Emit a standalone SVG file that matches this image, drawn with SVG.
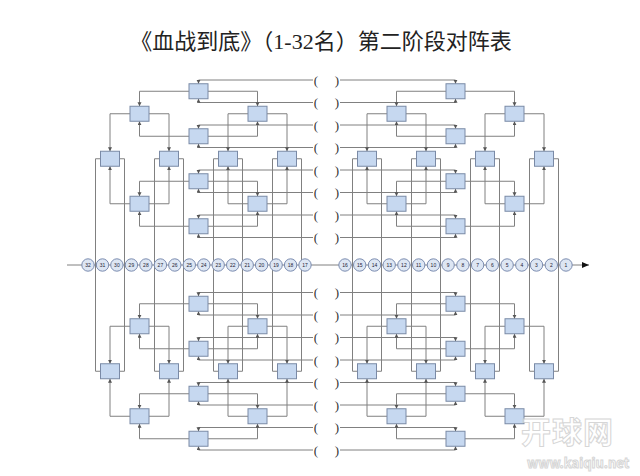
<svg xmlns="http://www.w3.org/2000/svg" width="640" height="476" viewBox="0 0 640 476">
<defs>
<marker id="ah" markerUnits="userSpaceOnUse" markerWidth="5" markerHeight="5" refX="4" refY="2" orient="auto"><path d="M0,0L4,2L0,4z" fill="#555"/></marker>
<marker id="axh" markerUnits="userSpaceOnUse" markerWidth="8" markerHeight="8" refX="7" refY="3" orient="auto"><path d="M0,0L7,3L0,6z" fill="#111"/></marker>
<style>
.c{fill:none;stroke:#808080;stroke-width:1}
.a{marker-end:url(#ah)}
.b rect{fill:#c6d8f0;stroke:#7a8aa6;stroke-width:1}
.p text{font-family:"Liberation Serif",serif;font-size:13px;fill:#333;text-anchor:middle}
.r circle{fill:#dde6f3;stroke:#7b8cb0;stroke-width:1}
.r text{font-family:"Liberation Sans",sans-serif;font-size:5px;fill:#223;text-anchor:middle}
.wm{font-family:"Noto Sans CJK SC","Liberation Sans",sans-serif;font-weight:bold;fill:#fff;stroke:#cfcfcf;stroke-width:1}
</style>
</defs>
<rect width="640" height="476" fill="#fff"/>
<text x="321" y="49" font-family="'Liberation Serif','Noto Sans CJK SC',serif" font-size="22" fill="#222" text-anchor="middle">《血战到底》（1-32名）第二阶段对阵表</text>

<g id="connectors">
<!-- left top brackets -->
<path class="c a" d="M313,80H198.5V83.75"/><path class="c a" d="M313,102.5H198.5V98.75"/>
<path class="c a" d="M313,125H198.5V128.75"/><path class="c a" d="M313,147.5H198.5V143.75"/>
<path class="c a" d="M313,170H198.5V173.75"/><path class="c a" d="M313,192.5H198.5V188.75"/>
<path class="c a" d="M313,215H198.5V218.75"/><path class="c a" d="M313,237.5H198.5V233.75"/>
<!-- left top core -->
<path class="c a" d="M189,91.25H139.5V106.25"/><path class="c a" d="M208,91.25H257.5V106.25"/>
<path class="c a" d="M189,136.25H139.5V121.25"/><path class="c a" d="M208,136.25H257.5V121.25"/>
<path class="c a" d="M189,181.25H139.5V196.25"/><path class="c a" d="M208,181.25H257.5V196.25"/>
<path class="c a" d="M189,226.25H139.5V211.25"/><path class="c a" d="M208,226.25H257.5V211.25"/>
<path class="c a" d="M130,113.75H110V151.25"/><path class="c a" d="M149,113.75H169V151.25"/>
<path class="c a" d="M248,113.75H228V151.25"/><path class="c a" d="M267,113.75H287V151.25"/>
<path class="c a" d="M130,203.75H110V166.25"/><path class="c a" d="M149,203.75H169V166.25"/>
<path class="c a" d="M248,203.75H228V166.25"/><path class="c a" d="M267,203.75H287V166.25"/>
<!-- left bottom brackets -->
<path class="c a" d="M313,450H198.5V446.25"/><path class="c a" d="M313,427.5H198.5V431.25"/>
<path class="c a" d="M313,405H198.5V401.25"/><path class="c a" d="M313,382.5H198.5V386.25"/>
<path class="c a" d="M313,360H198.5V356.25"/><path class="c a" d="M313,337.5H198.5V341.25"/>
<path class="c a" d="M313,315H198.5V311.25"/><path class="c a" d="M313,292.5H198.5V296.25"/>
<!-- left bottom core -->
<path class="c a" d="M189,438.75H139.5V423.75"/><path class="c a" d="M208,438.75H257.5V423.75"/>
<path class="c a" d="M189,393.75H139.5V408.75"/><path class="c a" d="M208,393.75H257.5V408.75"/>
<path class="c a" d="M189,348.75H139.5V333.75"/><path class="c a" d="M208,348.75H257.5V333.75"/>
<path class="c a" d="M189,303.75H139.5V318.75"/><path class="c a" d="M208,303.75H257.5V318.75"/>
<path class="c a" d="M130,416.25H110V378.75"/><path class="c a" d="M149,416.25H169V378.75"/>
<path class="c a" d="M248,416.25H228V378.75"/><path class="c a" d="M267,416.25H287V378.75"/>
<path class="c a" d="M130,326.25H110V363.75"/><path class="c a" d="M149,326.25H169V363.75"/>
<path class="c a" d="M248,326.25H228V363.75"/><path class="c a" d="M267,326.25H287V363.75"/>
<!-- left verticals -->
<path class="c" d="M100.5,158.75H95.5V371.25H100.5"/><path class="c" d="M119.5,158.75H124.5V371.25H119.5"/>
<path class="c" d="M159.5,158.75H154.5V371.25H159.5"/><path class="c" d="M178.5,158.75H183.5V371.25H178.5"/>
<path class="c" d="M218.5,158.75H213.5V371.25H218.5"/><path class="c" d="M237.5,158.75H242.5V371.25H237.5"/>
<path class="c" d="M277.5,158.75H272.5V371.25H277.5"/><path class="c" d="M296.5,158.75H301.5V371.25H296.5"/>

<!-- right top brackets -->
<path class="c a" d="M340,80H455.5V83.75"/><path class="c a" d="M340,102.5H455.5V98.75"/>
<path class="c a" d="M340,125H455.5V128.75"/><path class="c a" d="M340,147.5H455.5V143.75"/>
<path class="c a" d="M340,170H455.5V173.75"/><path class="c a" d="M340,192.5H455.5V188.75"/>
<path class="c a" d="M340,215H455.5V218.75"/><path class="c a" d="M340,237.5H455.5V233.75"/>
<!-- right top core -->
<path class="c a" d="M446,91.25H396.5V106.25"/><path class="c a" d="M465,91.25H514.5V106.25"/>
<path class="c a" d="M446,136.25H396.5V121.25"/><path class="c a" d="M465,136.25H514.5V121.25"/>
<path class="c a" d="M446,181.25H396.5V196.25"/><path class="c a" d="M465,181.25H514.5V196.25"/>
<path class="c a" d="M446,226.25H396.5V211.25"/><path class="c a" d="M465,226.25H514.5V211.25"/>
<path class="c a" d="M387,113.75H367V151.25"/><path class="c a" d="M406,113.75H426V151.25"/>
<path class="c a" d="M505,113.75H485V151.25"/><path class="c a" d="M524,113.75H544V151.25"/>
<path class="c a" d="M387,203.75H367V166.25"/><path class="c a" d="M406,203.75H426V166.25"/>
<path class="c a" d="M505,203.75H485V166.25"/><path class="c a" d="M524,203.75H544V166.25"/>
<!-- right bottom brackets -->
<path class="c a" d="M340,450H455.5V446.25"/><path class="c a" d="M340,427.5H455.5V431.25"/>
<path class="c a" d="M340,405H455.5V401.25"/><path class="c a" d="M340,382.5H455.5V386.25"/>
<path class="c a" d="M340,360H455.5V356.25"/><path class="c a" d="M340,337.5H455.5V341.25"/>
<path class="c a" d="M340,315H455.5V311.25"/><path class="c a" d="M340,292.5H455.5V296.25"/>
<!-- right bottom core -->
<path class="c a" d="M446,438.75H396.5V423.75"/><path class="c a" d="M465,438.75H514.5V423.75"/>
<path class="c a" d="M446,393.75H396.5V408.75"/><path class="c a" d="M465,393.75H514.5V408.75"/>
<path class="c a" d="M446,348.75H396.5V333.75"/><path class="c a" d="M465,348.75H514.5V333.75"/>
<path class="c a" d="M446,303.75H396.5V318.75"/><path class="c a" d="M465,303.75H514.5V318.75"/>
<path class="c a" d="M387,416.25H367V378.75"/><path class="c a" d="M406,416.25H426V378.75"/>
<path class="c a" d="M505,416.25H485V378.75"/><path class="c a" d="M524,416.25H544V378.75"/>
<path class="c a" d="M387,326.25H367V363.75"/><path class="c a" d="M406,326.25H426V363.75"/>
<path class="c a" d="M505,326.25H485V363.75"/><path class="c a" d="M524,326.25H544V363.75"/>
<!-- right verticals -->
<path class="c" d="M357.5,158.75H352.5V371.25H357.5"/><path class="c" d="M376.5,158.75H381.5V371.25H376.5"/>
<path class="c" d="M416.5,158.75H411.5V371.25H416.5"/><path class="c" d="M435.5,158.75H440.5V371.25H435.5"/>
<path class="c" d="M475.5,158.75H470.5V371.25H475.5"/><path class="c" d="M494.5,158.75H499.5V371.25H494.5"/>
<path class="c" d="M534.5,158.75H529.5V371.25H534.5"/><path class="c" d="M553.5,158.75H558.5V371.25H553.5"/>
<!-- rank axis -->
<path d="M67,265H589" stroke="#808080" stroke-width="1" fill="none" marker-end="url(#axh)"/>
</g>

<g id="matches" class="b">
<g id="lt-r1a"><rect x="189" y="83.75" width="19" height="15"/></g>
<g id="lt-r1b"><rect x="189" y="128.75" width="19" height="15"/></g>
<g id="lt-r1c"><rect x="189" y="173.75" width="19" height="15"/></g>
<g id="lt-r1d"><rect x="189" y="218.75" width="19" height="15"/></g>
<g id="lt-r2a"><rect x="130" y="106.25" width="19" height="15"/></g>
<g id="lt-r2b"><rect x="248" y="106.25" width="19" height="15"/></g>
<g id="lt-r2c"><rect x="130" y="196.25" width="19" height="15"/></g>
<g id="lt-r2d"><rect x="248" y="196.25" width="19" height="15"/></g>
<g id="lt-r3a"><rect x="100.5" y="151.25" width="19" height="15"/></g>
<g id="lt-r3b"><rect x="159.5" y="151.25" width="19" height="15"/></g>
<g id="lt-r3c"><rect x="218.5" y="151.25" width="19" height="15"/></g>
<g id="lt-r3d"><rect x="277.5" y="151.25" width="19" height="15"/></g>
<g id="lb-r1a"><rect x="189" y="296.25" width="19" height="15"/></g>
<g id="lb-r1b"><rect x="189" y="341.25" width="19" height="15"/></g>
<g id="lb-r1c"><rect x="189" y="386.25" width="19" height="15"/></g>
<g id="lb-r1d"><rect x="189" y="431.25" width="19" height="15"/></g>
<g id="lb-r2a"><rect x="130" y="318.75" width="19" height="15"/></g>
<g id="lb-r2b"><rect x="248" y="318.75" width="19" height="15"/></g>
<g id="lb-r2c"><rect x="130" y="408.75" width="19" height="15"/></g>
<g id="lb-r2d"><rect x="248" y="408.75" width="19" height="15"/></g>
<g id="lb-r3a"><rect x="100.5" y="363.75" width="19" height="15"/></g>
<g id="lb-r3b"><rect x="159.5" y="363.75" width="19" height="15"/></g>
<g id="lb-r3c"><rect x="218.5" y="363.75" width="19" height="15"/></g>
<g id="lb-r3d"><rect x="277.5" y="363.75" width="19" height="15"/></g>
<g id="rt-r1a"><rect x="446" y="83.75" width="19" height="15"/></g>
<g id="rt-r1b"><rect x="446" y="128.75" width="19" height="15"/></g>
<g id="rt-r1c"><rect x="446" y="173.75" width="19" height="15"/></g>
<g id="rt-r1d"><rect x="446" y="218.75" width="19" height="15"/></g>
<g id="rt-r2a"><rect x="387" y="106.25" width="19" height="15"/></g>
<g id="rt-r2b"><rect x="505" y="106.25" width="19" height="15"/></g>
<g id="rt-r2c"><rect x="387" y="196.25" width="19" height="15"/></g>
<g id="rt-r2d"><rect x="505" y="196.25" width="19" height="15"/></g>
<g id="rt-r3a"><rect x="357.5" y="151.25" width="19" height="15"/></g>
<g id="rt-r3b"><rect x="416.5" y="151.25" width="19" height="15"/></g>
<g id="rt-r3c"><rect x="475.5" y="151.25" width="19" height="15"/></g>
<g id="rt-r3d"><rect x="534.5" y="151.25" width="19" height="15"/></g>
<g id="rb-r1a"><rect x="446" y="296.25" width="19" height="15"/></g>
<g id="rb-r1b"><rect x="446" y="341.25" width="19" height="15"/></g>
<g id="rb-r1c"><rect x="446" y="386.25" width="19" height="15"/></g>
<g id="rb-r1d"><rect x="446" y="431.25" width="19" height="15"/></g>
<g id="rb-r2a"><rect x="387" y="318.75" width="19" height="15"/></g>
<g id="rb-r2b"><rect x="505" y="318.75" width="19" height="15"/></g>
<g id="rb-r2c"><rect x="387" y="408.75" width="19" height="15"/></g>
<g id="rb-r2d"><rect x="505" y="408.75" width="19" height="15"/></g>
<g id="rb-r3a"><rect x="357.5" y="363.75" width="19" height="15"/></g>
<g id="rb-r3b"><rect x="416.5" y="363.75" width="19" height="15"/></g>
<g id="rb-r3c"><rect x="475.5" y="363.75" width="19" height="15"/></g>
<g id="rb-r3d"><rect x="534.5" y="363.75" width="19" height="15"/></g>
</g>

<g id="players" class="p">
<g id="pl1"><text x="316" y="84.5">(</text></g><g id="pl2"><text x="316" y="107">(</text></g>
<g id="pl3"><text x="316" y="129.5">(</text></g><g id="pl4"><text x="316" y="152">(</text></g>
<g id="pl5"><text x="316" y="174.5">(</text></g><g id="pl6"><text x="316" y="197">(</text></g>
<g id="pl7"><text x="316" y="219.5">(</text></g><g id="pl8"><text x="316" y="242">(</text></g>
<g id="pl9"><text x="316" y="297">(</text></g><g id="pl10"><text x="316" y="319.5">(</text></g>
<g id="pl11"><text x="316" y="342">(</text></g><g id="pl12"><text x="316" y="364.5">(</text></g>
<g id="pl13"><text x="316" y="387">(</text></g><g id="pl14"><text x="316" y="409.5">(</text></g>
<g id="pl15"><text x="316" y="432">(</text></g><g id="pl16"><text x="316" y="454.5">(</text></g>
<g id="pr1"><text x="337" y="84.5">)</text></g><g id="pr2"><text x="337" y="107">)</text></g>
<g id="pr3"><text x="337" y="129.5">)</text></g><g id="pr4"><text x="337" y="152">)</text></g>
<g id="pr5"><text x="337" y="174.5">)</text></g><g id="pr6"><text x="337" y="197">)</text></g>
<g id="pr7"><text x="337" y="219.5">)</text></g><g id="pr8"><text x="337" y="242">)</text></g>
<g id="pr9"><text x="337" y="297">)</text></g><g id="pr10"><text x="337" y="319.5">)</text></g>
<g id="pr11"><text x="337" y="342">)</text></g><g id="pr12"><text x="337" y="364.5">)</text></g>
<g id="pr13"><text x="337" y="387">)</text></g><g id="pr14"><text x="337" y="409.5">)</text></g>
<g id="pr15"><text x="337" y="432">)</text></g><g id="pr16"><text x="337" y="454.5">)</text></g>
</g>

<g id="ranks" class="r">
<g id="rk32"><circle cx="88" cy="265" r="6.2"/><text x="88" y="266.8">32</text></g>
<g id="rk31"><circle cx="102.5" cy="265" r="6.2"/><text x="102.5" y="266.8">31</text></g>
<g id="rk30"><circle cx="116.9" cy="265" r="6.2"/><text x="116.9" y="266.8">30</text></g>
<g id="rk29"><circle cx="131.4" cy="265" r="6.2"/><text x="131.4" y="266.8">29</text></g>
<g id="rk28"><circle cx="145.9" cy="265" r="6.2"/><text x="145.9" y="266.8">28</text></g>
<g id="rk27"><circle cx="160.4" cy="265" r="6.2"/><text x="160.4" y="266.8">27</text></g>
<g id="rk26"><circle cx="174.8" cy="265" r="6.2"/><text x="174.8" y="266.8">26</text></g>
<g id="rk25"><circle cx="189.3" cy="265" r="6.2"/><text x="189.3" y="266.8">25</text></g>
<g id="rk24"><circle cx="203.8" cy="265" r="6.2"/><text x="203.8" y="266.8">24</text></g>
<g id="rk23"><circle cx="218.2" cy="265" r="6.2"/><text x="218.2" y="266.8">23</text></g>
<g id="rk22"><circle cx="232.7" cy="265" r="6.2"/><text x="232.7" y="266.8">22</text></g>
<g id="rk21"><circle cx="247.2" cy="265" r="6.2"/><text x="247.2" y="266.8">21</text></g>
<g id="rk20"><circle cx="261.6" cy="265" r="6.2"/><text x="261.6" y="266.8">20</text></g>
<g id="rk19"><circle cx="276.1" cy="265" r="6.2"/><text x="276.1" y="266.8">19</text></g>
<g id="rk18"><circle cx="290.6" cy="265" r="6.2"/><text x="290.6" y="266.8">18</text></g>
<g id="rk17"><circle cx="305" cy="265" r="6.2"/><text x="305" y="266.8">17</text></g>
<g id="rk16"><circle cx="345" cy="265" r="6.2"/><text x="345" y="266.8">16</text></g>
<g id="rk15"><circle cx="359.7" cy="265" r="6.2"/><text x="359.7" y="266.8">15</text></g>
<g id="rk14"><circle cx="374.5" cy="265" r="6.2"/><text x="374.5" y="266.8">14</text></g>
<g id="rk13"><circle cx="389.2" cy="265" r="6.2"/><text x="389.2" y="266.8">13</text></g>
<g id="rk12"><circle cx="403.9" cy="265" r="6.2"/><text x="403.9" y="266.8">12</text></g>
<g id="rk11"><circle cx="418.7" cy="265" r="6.2"/><text x="418.7" y="266.8">11</text></g>
<g id="rk10"><circle cx="433.4" cy="265" r="6.2"/><text x="433.4" y="266.8">10</text></g>
<g id="rk9"><circle cx="448.1" cy="265" r="6.2"/><text x="448.1" y="266.8">9</text></g>
<g id="rk8"><circle cx="462.9" cy="265" r="6.2"/><text x="462.9" y="266.8">8</text></g>
<g id="rk7"><circle cx="477.6" cy="265" r="6.2"/><text x="477.6" y="266.8">7</text></g>
<g id="rk6"><circle cx="492.3" cy="265" r="6.2"/><text x="492.3" y="266.8">6</text></g>
<g id="rk5"><circle cx="507.1" cy="265" r="6.2"/><text x="507.1" y="266.8">5</text></g>
<g id="rk4"><circle cx="521.8" cy="265" r="6.2"/><text x="521.8" y="266.8">4</text></g>
<g id="rk3"><circle cx="536.5" cy="265" r="6.2"/><text x="536.5" y="266.8">3</text></g>
<g id="rk2"><circle cx="551.3" cy="265" r="6.2"/><text x="551.3" y="266.8">2</text></g>
<g id="rk1"><circle cx="566" cy="265" r="6.2"/><text x="566" y="266.8">1</text></g>
</g>

<g id="watermark" opacity="0.85">
<text class="wm" x="521" y="443" font-size="30" letter-spacing="1">开球网</text>
<text class="wm" x="527" y="468" font-size="13" stroke-width="0.6">www.kaiqiu.net</text>
</g>
</svg>
